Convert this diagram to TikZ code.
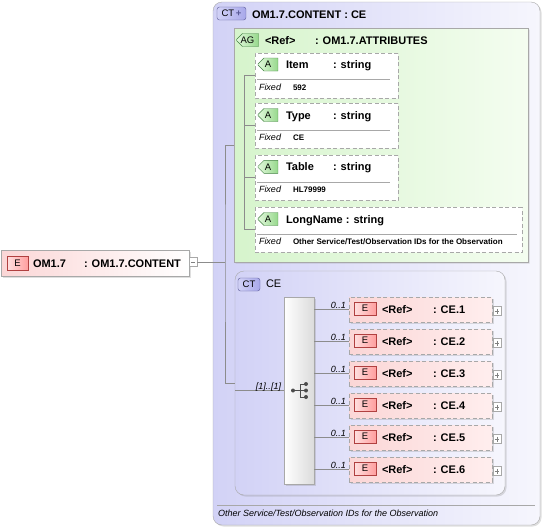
\documentclass[tikz,border=0pt]{standalone}
\usepackage{fontspec}
\setmainfont{Liberation Sans}
\usetikzlibrary{shapes.misc}
\usetikzlibrary{shadows}

\definecolor{ctleft}{RGB}{210,210,246}
\definecolor{ctright}{RGB}{246,246,253}
\definecolor{ctdark}{RGB}{168,168,234}
\definecolor{agleft}{RGB}{214,244,204}
\definecolor{agright}{RGB}{244,253,240}
\definecolor{tagleft}{RGB}{226,248,220}
\definecolor{tagright}{RGB}{150,216,140}
\definecolor{elleft}{RGB}{251,214,214}
\definecolor{elright}{RGB}{255,238,238}
\definecolor{boxgray}{RGB}{168,168,168}
\definecolor{wirecol}{RGB}{140,140,140}
\definecolor{ered}{RGB}{176,64,64}
\definecolor{agreen}{RGB}{64,128,64}
\definecolor{cblue}{RGB}{90,90,150}

\begin{document}
\begin{tikzpicture}[
            x=1pt, y=-1pt,
            every node/.style={inner sep=0pt, outer sep=0pt},
            lbl/.style={anchor=west, text height=8pt, text depth=0pt, font=\fontsize{11}{13}\selectfont\bfseries},
            fixval/.style={anchor=west, text height=6pt, text depth=0pt, font=\fontsize{8}{10}\selectfont\bfseries},
            doc/.style={anchor=west, text height=6.5pt, text depth=0pt, font=\fontsize{9}{11}\selectfont\itshape},
            occ/.style={doc, anchor=south east, xshift=-3pt, yshift=1.5pt},
            boxshadow/.style={drop shadow={shadow xshift=1.5pt, shadow yshift=-1.5pt, opacity=0.25}},
            ctbox/.style={draw=boxgray, rounded corners=9pt, left color=ctleft, right color=ctright, anchor=north west, boxshadow},
            agbox/.style={chamfered rectangle, chamfered rectangle corners={north west,south west}, chamfered rectangle xsep=6pt, chamfered rectangle ysep=6pt, draw=boxgray, left color=agleft, right color=agright, boxshadow},
            attbox/.style={chamfered rectangle, chamfered rectangle corners={north west,south west}, chamfered rectangle xsep=4pt, chamfered rectangle ysep=4pt, draw=boxgray, dash pattern=on 4pt off 2.5pt, fill=white, minimum width=143pt, minimum height=45.5pt},
            elbox/.style={draw=boxgray, dash pattern=on 4pt off 2.5pt, left color=elleft, right color=elright, anchor=north west, minimum width=143pt, minimum height=25pt, boxshadow},
            seqbox/.style={draw=boxgray, left color=white, right color=black!14, anchor=north west, boxshadow},
            ebadge/.style={draw=ered, left color=red!12, right color=red!38, minimum width=22pt, minimum height=13pt, font=\fontsize{9.5}{10}\selectfont},
            atag/.style={chamfered rectangle, chamfered rectangle corners={north west,south west}, chamfered rectangle xsep=3pt, chamfered rectangle ysep=3pt, draw=agreen, left color=tagleft, right color=tagright, anchor=west, minimum width=20pt, minimum height=13pt, font=\fontsize{9.5}{10}\selectfont},
            ctbadge/.style={draw=cblue, rounded corners=2.5pt, left color=ctleft, right color=ctdark, anchor=west, minimum width=22pt, minimum height=13pt, font=\fontsize{9.5}{10}\selectfont},
            sepline/.style={draw=boxgray},
            wire/.style={draw=wirecol, line width=0.6pt},
            icon/.style={draw=black!70, line width=0.8pt},
            minusbox/.style={draw=boxgray, fill=white, minimum width=8pt, minimum height=9pt,
                path picture={\draw[black!50] ([xshift=1.8pt]path picture bounding box.west) -- ([xshift=-1.8pt]path picture bounding box.east);}},
            plusbox/.style={draw=boxgray, fill=white, minimum width=8pt, minimum height=9pt,
                path picture={\draw[black!50] ([xshift=1.8pt]path picture bounding box.west) -- ([xshift=-1.8pt]path picture bounding box.east);
                              \draw[black!50] ([yshift=-2pt]path picture bounding box.north) -- ([yshift=2pt]path picture bounding box.south);}},
            ]
            \useasboundingbox (0,0) rectangle (544,528);

            % complex type OM1.7.CONTENT
            \node[ctbox, minimum width=327pt, minimum height=523pt] (content) at (213,2) {};
            \node[ctbadge, minimum width=29pt] (contenttag) at (217,13.5) {CT\,{\color{cblue}\textbf{+}}};
            \node[lbl] (contentname) at (252,14) {OM1.7.CONTENT : CE};
            \draw[sepline] (217,505) -- (535,505);
            \node[doc] (contentdoc) at (218,513) {Other Service/Test/Observation IDs for the Observation};

            % attribute group
            \node[agbox, minimum width=294pt, minimum height=234pt] (attrs) at (381,145) {};
            \node[atag, minimum width=22pt] (attrstag) at (236.5,40) {AG};
            \node[lbl] (attrsref) at (265,40) {<Ref>};
            \node[lbl] (attrsname) at (315,40) {: OM1.7.ATTRIBUTES};

            \node[attbox] (item) at (326.5,75.75) {};
            \node[atag] (itemtag) at (258,64.5) {A};
            \node[lbl] (itemname) at (286,64.5) {Item};
            \node[lbl] (itemtype) at (333,64.5) {: string};
            \draw[sepline] (257,79.5) -- (390,79.5);
            \node[doc] (itemfixed) at (259,87) {Fixed};
            \node[fixval] (itemvalue) at (293,87) {592};

            \node[attbox] (type) at (326.5,125.75) {};
            \node[atag] (typetag) at (258,115) {A};
            \node[lbl] (typename) at (286,115) {Type};
            \node[lbl] (typetype) at (333,115) {: string};
            \draw[sepline] (257,130) -- (390,130);
            \node[doc] (typefixed) at (259,137.5) {Fixed};
            \node[fixval] (typevalue) at (293,137.5) {CE};

            \node[attbox] (table) at (326.5,177.75) {};
            \node[atag] (tabletag) at (258,166.8) {A};
            \node[lbl] (tablename) at (286,166.8) {Table};
            \node[lbl] (tabletype) at (333,166.8) {: string};
            \draw[sepline] (257,182) -- (390,182);
            \node[doc] (tablefixed) at (259,189.3) {Fixed};
            \node[fixval] (tablevalue) at (293,189.3) {HL79999};

            \node[attbox, minimum width=267pt] (longname) at (388.5,229.75) {};
            \node[atag] (longnametag) at (258,219) {A};
            \node[lbl] (longnamename) at (286,219) {LongName};
            \path (longnamename.east) ++(3,0) node[lbl] (longnametype) {: string};
            \draw[sepline] (257,234) -- (517,234);
            \node[doc] (longnamefixed) at (259,241) {Fixed};
            \node[fixval] (longnamevalue) at (293,241) {Other Service/Test/Observation IDs for the Observation};

            \draw[wire] (item.west) -- ++(-11,0) |- (longname.west);
            \draw[wire] (type.west) -- ++(-11,0);
            \draw[wire] (table.west) -- ++(-11,0);

            % complex type CE
            \node[ctbox, minimum width=270pt, minimum height=224pt] (cebox) at (235,271) {};
            \node[ctbadge] (cetag) at (238,284.5) {CT};
            \node[anchor=west, text height=8pt, text depth=0pt, font=\fontsize{11}{13}\selectfont] (cename) at (266,283.5) {CE};

            \node[seqbox, minimum width=30pt, minimum height=187pt] (seq) at (284,297) {};
            \path (seq.center) ++(-6,0) coordinate (sq0);
            \draw[icon] (sq0) -- ++(7,0);
            \draw[icon] (sq0) ++(7,-6.5) -- ++(0,13);
            \draw[icon] (sq0) ++(7,-6.5) -- ++(6,0);
            \draw[icon] (sq0) ++(7,6.5) -- ++(6,0);
            \draw[icon] (sq0) ++(7,0) -- ++(6,0);
            \fill[black!70] (sq0) circle (2pt);
            \fill[black!70] (sq0) ++(13,-6.5) circle (2pt);
            \fill[black!70] (sq0) ++(13,0) circle (2pt);
            \fill[black!70] (sq0) ++(13,6.5) circle (2pt);
            \draw[wire] (cebox.west |- seq.west) -- (seq.west) node[occ] {[1]..[1]};

            % children of the sequence
            \node[elbox] (ce1) at (349,297) {};
            \path (ce1.west) ++(5,-1) node[ebadge, anchor=west] (ce1tag) {E};
            \path (ce1.west) ++(33,0) node[lbl] (ce1ref) {<Ref>};
            \path (ce1.west) ++(84,0) node[lbl] (ce1name) {: CE.1};
            \path (ce1.east) ++(1,1.5) node[plusbox, anchor=west] (ce1plus) {};
            \draw[wire] (ce1.west -| seq.east) -- (ce1.west) node[occ] {0..1};

            \node[elbox] (ce2) at (349,329) {};
            \path (ce2.west) ++(5,-1) node[ebadge, anchor=west] (ce2tag) {E};
            \path (ce2.west) ++(33,0) node[lbl] (ce2ref) {<Ref>};
            \path (ce2.west) ++(84,0) node[lbl] (ce2name) {: CE.2};
            \path (ce2.east) ++(1,1.5) node[plusbox, anchor=west] (ce2plus) {};
            \draw[wire] (ce2.west -| seq.east) -- (ce2.west) node[occ] {0..1};

            \node[elbox] (ce3) at (349,361) {};
            \path (ce3.west) ++(5,-1) node[ebadge, anchor=west] (ce3tag) {E};
            \path (ce3.west) ++(33,0) node[lbl] (ce3ref) {<Ref>};
            \path (ce3.west) ++(84,0) node[lbl] (ce3name) {: CE.3};
            \path (ce3.east) ++(1,1.5) node[plusbox, anchor=west] (ce3plus) {};
            \draw[wire] (ce3.west -| seq.east) -- (ce3.west) node[occ] {0..1};

            \node[elbox] (ce4) at (349,393) {};
            \path (ce4.west) ++(5,-1) node[ebadge, anchor=west] (ce4tag) {E};
            \path (ce4.west) ++(33,0) node[lbl] (ce4ref) {<Ref>};
            \path (ce4.west) ++(84,0) node[lbl] (ce4name) {: CE.4};
            \path (ce4.east) ++(1,1.5) node[plusbox, anchor=west] (ce4plus) {};
            \draw[wire] (ce4.west -| seq.east) -- (ce4.west) node[occ] {0..1};

            \node[elbox] (ce5) at (349,425) {};
            \path (ce5.west) ++(5,-1) node[ebadge, anchor=west] (ce5tag) {E};
            \path (ce5.west) ++(33,0) node[lbl] (ce5ref) {<Ref>};
            \path (ce5.west) ++(84,0) node[lbl] (ce5name) {: CE.5};
            \path (ce5.east) ++(1,1.5) node[plusbox, anchor=west] (ce5plus) {};
            \draw[wire] (ce5.west -| seq.east) -- (ce5.west) node[occ] {0..1};

            \node[elbox] (ce6) at (349,457) {};
            \path (ce6.west) ++(5,-1) node[ebadge, anchor=west] (ce6tag) {E};
            \path (ce6.west) ++(33,0) node[lbl] (ce6ref) {<Ref>};
            \path (ce6.west) ++(84,0) node[lbl] (ce6name) {: CE.6};
            \path (ce6.east) ++(1,1.5) node[plusbox, anchor=west] (ce6plus) {};
            \draw[wire] (ce6.west -| seq.east) -- (ce6.west) node[occ] {0..1};

            % element OM1.7
            \node[draw=boxgray, left color=elleft, right color=white, anchor=north west, minimum width=188pt, minimum height=26pt, boxshadow] (om17) at (1,250) {};
            \path (om17.west) ++(6,0) node[ebadge, anchor=west, minimum width=21pt, minimum height=14pt] (om17tag) {E};
            \path (om17.west) ++(32,0) node[lbl] (om17name) {OM1.7};
            \path (om17.west) ++(83,0) node[lbl] (om17type) {: OM1.7.CONTENT};
            \path (om17.east) ++(0,-1) node[minusbox, anchor=west] (om17minus) {};

            \coordinate (fork) at (225,262);
            \draw[wire] (om17minus.east) -- (fork);
            \draw[wire] (attrs.west) -| (fork) |- (cebox.west);
        \end{tikzpicture}
\end{document}
